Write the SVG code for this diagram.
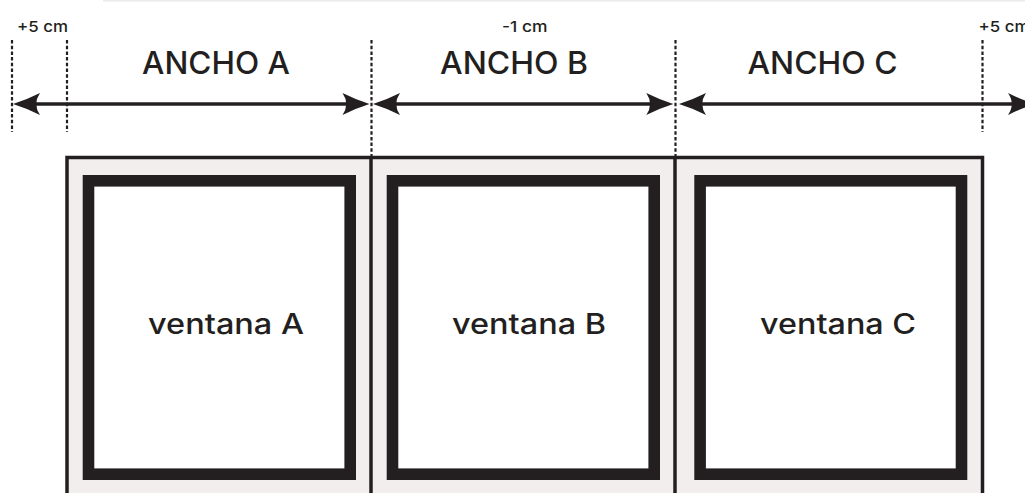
<svg xmlns="http://www.w3.org/2000/svg" xmlns:xlink="http://www.w3.org/1999/xlink" width="1025" height="493" viewBox="0 0 1025 493">
  <style>
    .dash { stroke: #231f20; stroke-width: 2.2; stroke-dasharray: 3.5 2.2; fill: none; }
    .dim { stroke: #231f20; stroke-width: 3.5; fill: none; }
    .head { fill: #231f20; }
    .frame { fill: #ffffff; stroke: #231f20; stroke-width: 11.6; }
    .lbl { font-family: Inter, "Liberation Sans", Arial, sans-serif; font-weight: 500; fill: #231f20; }
    .big { font-size: 31px; }
    .win { font-size: 28px; }
    .small { font-size: 15px; }
  </style>
  <defs>
    <path id="head" d="M0,0 Q13,-4 27,-11 Q19.5,0 27,11 Q13,4 0,0 Z"/>
  </defs>
  <rect width="1025" height="493" fill="#ffffff"/>
  <line x1="103" y1="0.7" x2="1025" y2="0.7" stroke="#ebe9e9" stroke-width="1.5"/>

  <g id="panel">
    <rect x="67" y="157.5" width="915.5" height="400" fill="#f2eeee" stroke="#231f20" stroke-width="3.5"/>
    <line x1="371" y1="157" x2="371" y2="493" stroke="#231f20" stroke-width="3.5"/>
    <line x1="675" y1="157" x2="675" y2="493" stroke="#231f20" stroke-width="3.5"/>
  </g>

  <g id="ventana-a">
    <rect class="frame" x="88.5" y="180.8" width="261.7" height="293.4"/>
    <text class="lbl win" x="148" y="334" textLength="156" lengthAdjust="spacingAndGlyphs">ventana A</text>
  </g>
  <g id="ventana-b">
    <rect class="frame" x="392.5" y="180.8" width="261.7" height="293.4"/>
    <text class="lbl win" x="452" y="333.5" textLength="154" lengthAdjust="spacingAndGlyphs">ventana B</text>
  </g>
  <g id="ventana-c">
    <rect class="frame" x="700.1" y="180.8" width="261.4" height="293.4"/>
    <text class="lbl win" x="760" y="333.5" textLength="156" lengthAdjust="spacingAndGlyphs">ventana C</text>
  </g>

  <g id="connectors">
    <line class="dash" x1="12" y1="40" x2="12" y2="132"/>
    <line class="dash" x1="67" y1="40" x2="67" y2="132"/>
    <line class="dash" x1="371.5" y1="40" x2="371.5" y2="157"/>
    <line class="dash" x1="675.5" y1="40" x2="675.5" y2="157"/>
    <line class="dash" x1="982.5" y1="40" x2="982.5" y2="132"/>

    <line class="dim" x1="22" y1="104" x2="361" y2="104"/>
    <use class="head" xlink:href="#head" transform="translate(13,104)"/>
    <use class="head" xlink:href="#head" transform="translate(369.5,104) scale(-1,1)"/>

    <line class="dim" x1="382" y1="104" x2="664" y2="104"/>
    <use class="head" xlink:href="#head" transform="translate(373,104)"/>
    <use class="head" xlink:href="#head" transform="translate(673.3,104) scale(-1,1)"/>

    <line class="dim" x1="688" y1="104" x2="1025" y2="104"/>
    <use class="head" xlink:href="#head" transform="translate(679,104)"/>
    <use class="head" xlink:href="#head" transform="translate(1035,104) scale(-1,1)"/>
  </g>

  <g id="labels">
    <text class="lbl big" x="142" y="74" textLength="148" lengthAdjust="spacingAndGlyphs">ANCHO A</text>
    <text class="lbl big" x="440" y="74" textLength="148" lengthAdjust="spacingAndGlyphs">ANCHO B</text>
    <text class="lbl big" x="747.5" y="74" textLength="150" lengthAdjust="spacingAndGlyphs">ANCHO C</text>
    <text class="lbl small" x="17" y="31.7" textLength="51" lengthAdjust="spacingAndGlyphs">+5 cm</text>
    <text class="lbl small" x="502" y="31.7" textLength="45.5" lengthAdjust="spacingAndGlyphs">-1 cm</text>
    <text class="lbl small" x="978.5" y="31.7" textLength="51" lengthAdjust="spacingAndGlyphs">+5 cm</text>
  </g>
</svg>
